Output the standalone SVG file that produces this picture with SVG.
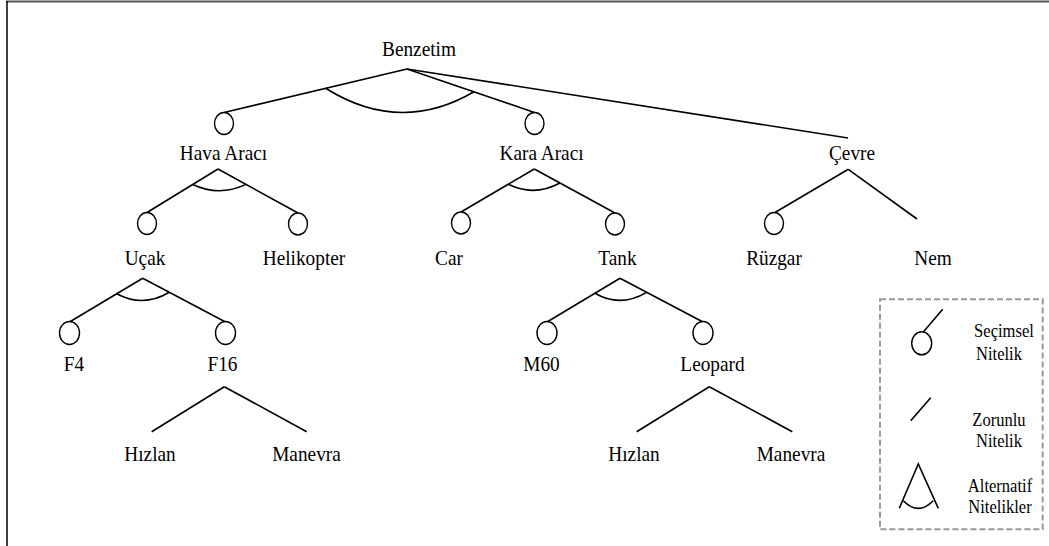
<svg xmlns="http://www.w3.org/2000/svg" width="1049" height="546" viewBox="0 0 1049 546">
<style>
.t{font-size:21px;text-anchor:middle;fill:#000}
.lt{font-size:18px;text-anchor:middle;fill:#000}
.c{fill:#fff;stroke:#000;stroke-width:1.4}
.l{fill:none;stroke:#000;stroke-width:1.6}
.a{fill:none;stroke:#000;stroke-width:1.6}
</style>
<rect x="0" y="0" width="1049" height="546" fill="#fff"/>
<g id="frame">
<line x1="6" y1="1.5" x2="1049" y2="1.5" stroke="#555" stroke-width="2"/>
<line x1="7" y1="1" x2="7" y2="546" stroke="#000" stroke-width="1.5"/>
</g>
<g id="connectors">
<line class="l" x1="407" y1="69" x2="224" y2="112.5"/>
<line class="l" x1="407" y1="69" x2="534.5" y2="112.5"/>
<line class="l" x1="407" y1="69" x2="848" y2="138"/>
<path class="a" d="M325.7,88.3 Q400,135 474,91.8"/>
<line class="l" x1="218" y1="169" x2="147" y2="212.5"/>
<line class="l" x1="218" y1="169" x2="298" y2="213"/>
<path class="a" d="M192.7,184.5 Q219,197 246,184.4"/>
<line class="l" x1="534.3" y1="169" x2="461" y2="212"/>
<line class="l" x1="534.3" y1="169" x2="615" y2="213"/>
<path class="a" d="M508.3,184.3 Q534,197 560,183"/>
<line class="l" x1="848.3" y1="169.3" x2="775" y2="212.5"/>
<line class="l" x1="848.3" y1="169.3" x2="917" y2="219"/>
<line class="l" x1="142.7" y1="278.3" x2="69.5" y2="322"/>
<line class="l" x1="142.7" y1="278.3" x2="225.5" y2="322"/>
<path class="a" d="M116.7,293.8 Q143,308 169.3,292.3"/>
<line class="l" x1="620" y1="278.3" x2="547" y2="322"/>
<line class="l" x1="620" y1="278.3" x2="703" y2="322"/>
<path class="a" d="M595,293.3 Q620,308 646.7,292.4"/>
<line class="l" x1="224.3" y1="386.7" x2="151.7" y2="431.7"/>
<line class="l" x1="224.3" y1="386.7" x2="306.7" y2="431.7"/>
<line class="l" x1="709.3" y1="386.7" x2="636.7" y2="431.7"/>
<line class="l" x1="709.3" y1="386.7" x2="792.3" y2="431.7"/>
</g>
<g font-family="Liberation Serif, DejaVu Serif, serif">
<g id="n-benzetim"><text class="t" transform="translate(419,56) scale(0.92,1)">Benzetim</text></g>
<g id="n-hava"><ellipse class="c" cx="224" cy="123.5" rx="9.5" ry="11"/><text class="t" transform="translate(223.5,159.5) scale(0.92,1)">Hava Aracı</text></g>
<g id="n-kara"><ellipse class="c" cx="534.5" cy="123.5" rx="9.5" ry="11"/><text class="t" transform="translate(541.5,159.5) scale(0.92,1)">Kara Aracı</text></g>
<g id="n-cevre"><text class="t" transform="translate(852,159.5) scale(0.92,1)">Çevre</text></g>
<g id="n-ucak"><ellipse class="c" cx="147" cy="223.5" rx="9.5" ry="11"/><text class="t" transform="translate(145,265) scale(0.92,1)">Uçak</text></g>
<g id="n-helikopter"><ellipse class="c" cx="298" cy="224" rx="9.5" ry="11"/><text class="t" transform="translate(304,265) scale(0.92,1)">Helikopter</text></g>
<g id="n-car"><ellipse class="c" cx="461" cy="223" rx="9.5" ry="11"/><text class="t" transform="translate(449,265) scale(0.92,1)">Car</text></g>
<g id="n-tank"><ellipse class="c" cx="615" cy="224" rx="9.5" ry="11"/><text class="t" transform="translate(617.5,265) scale(0.92,1)">Tank</text></g>
<g id="n-ruzgar"><ellipse class="c" cx="774" cy="223.5" rx="9.5" ry="11"/><text class="t" transform="translate(774,265) scale(0.92,1)">Rüzgar</text></g>
<g id="n-nem"><text class="t" transform="translate(933,265) scale(0.92,1)">Nem</text></g>
<g id="n-f4"><ellipse class="c" cx="69.5" cy="333" rx="10" ry="11.5"/><text class="t" transform="translate(74,370.5) scale(0.92,1)">F4</text></g>
<g id="n-f16"><ellipse class="c" cx="225.5" cy="333" rx="10" ry="11.5"/><text class="t" transform="translate(222.5,370.5) scale(0.92,1)">F16</text></g>
<g id="n-m60"><ellipse class="c" cx="547" cy="333" rx="10" ry="11.5"/><text class="t" transform="translate(541.5,370.5) scale(0.92,1)">M60</text></g>
<g id="n-leopard"><ellipse class="c" cx="703" cy="333" rx="10" ry="11.5"/><text class="t" transform="translate(712.5,370.5) scale(0.92,1)">Leopard</text></g>
<g id="n-hizlan1"><text class="t" transform="translate(150,461) scale(0.92,1)">Hızlan</text></g>
<g id="n-manevra1"><text class="t" transform="translate(306.5,461) scale(0.92,1)">Manevra</text></g>
<g id="n-hizlan2"><text class="t" transform="translate(634,461) scale(0.92,1)">Hızlan</text></g>
<g id="n-manevra2"><text class="t" transform="translate(791,461) scale(0.92,1)">Manevra</text></g>
<g id="legend">
<rect x="880" y="299.3" width="162.7" height="230" fill="none" stroke="#999" stroke-width="2" stroke-dasharray="6 3"/>
<line class="l" x1="942.7" y1="309.3" x2="923.3" y2="332"/>
<ellipse class="c" cx="921.7" cy="343.3" rx="10" ry="11.5"/>
<text class="lt" transform="translate(1004,337) scale(0.92,1)">Seçimsel</text>
<text class="lt" transform="translate(999,360) scale(0.92,1)">Nitelik</text>
<line class="l" x1="930.7" y1="397.7" x2="910.7" y2="420.7"/>
<text class="lt" transform="translate(999,426) scale(0.92,1)">Zorunlu</text>
<text class="lt" transform="translate(999,447) scale(0.92,1)">Nitelik</text>
<polyline class="l" points="899.3,508.3 918.3,464 938.3,508.3"/>
<path class="a" d="M903.3,500.7 Q918.3,516 933.3,500.7"/>
<text class="lt" transform="translate(1000,491.7) scale(0.92,1)">Alternatif</text>
<text class="lt" transform="translate(1000,513) scale(0.92,1)">Nitelikler</text>
</g>
</g>
</svg>
